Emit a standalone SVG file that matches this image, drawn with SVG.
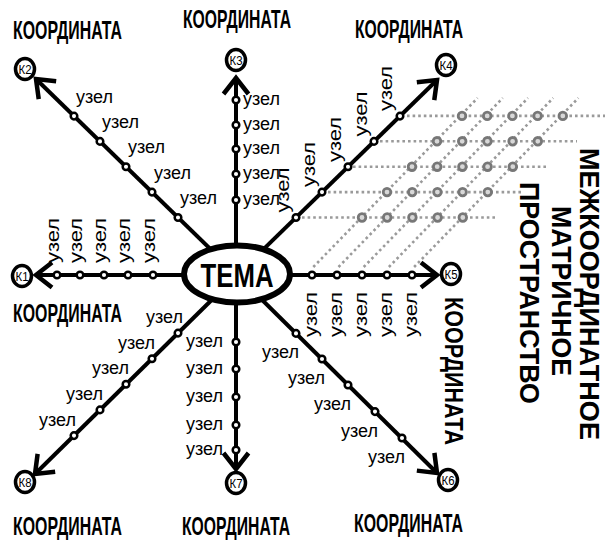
<svg xmlns="http://www.w3.org/2000/svg" width="605" height="543" viewBox="0 0 605 543">
<defs>
<style>
.ax{stroke:#000;stroke-width:4;fill:none;marker-end:url(#ar)}
.nd{fill:#fff;stroke:#000;stroke-width:2.5}
.lb{font-family:"Liberation Sans",Arial,sans-serif;font-size:18px;fill:#000}
.vl{font-family:"Liberation Sans",Arial,sans-serif;font-size:18px;fill:#000}
.co{font-family:"Liberation Sans",Arial,sans-serif;font-weight:bold;font-size:25px;fill:#000}
.kc{fill:#fff;stroke:#000;stroke-width:3.5}
.kt{font-family:"Liberation Sans",Arial,sans-serif;font-size:12.5px;text-anchor:middle;fill:#000}
.dt{stroke:#9a9a9a;stroke-width:2.6;stroke-dasharray:2.6 3;fill:none}
.gn{fill:#d8d8d8;stroke:#777;stroke-width:2.8}
.big{font-family:"Liberation Sans",Arial,sans-serif;font-weight:bold;font-size:27px;text-anchor:middle;fill:#000}
</style>
<marker id="ar" markerUnits="userSpaceOnUse" markerWidth="44" markerHeight="44" viewBox="-22 -22 44 44" refX="0" refY="0" orient="auto">
<path d="M-16,-12.5 L0,0 L-16,12.5" fill="none" stroke="#000" stroke-width="4.5"/>
</marker>
</defs>
<rect width="605" height="543" fill="#fff"/>

<g id="connectors">
<g id="matrix-lines">
<path class="dt" d="M313.3,267 L477.6,98 M338.5,267 L502.8,98 M363.7,267 L528,98 M388.9,267 L553.2,98 M414.1,267 L578.4,98"/>
<path class="dt" d="M302,217.5 H497 M328,192.1 H522 M353,166.7 H549 M380,141.3 H577 M407,115.9 H605"/>
</g>
<path class="ax" d="M237,275 L36,275"/>
<path class="ax" d="M237,275 L36,79"/>
<path class="ax" d="M236,275 L236,78"/>
<path class="ax" d="M237,275 L437,80"/>
<path class="ax" d="M237,275 L437,275"/>
<path class="ax" d="M237,275 L437,473"/>
<path class="ax" d="M236,275 L236,469"/>
<path class="ax" d="M237,275 L35,474"/>
</g>

<g id="matrix-nodes">
<circle class="gn" cx="362" cy="217.5" r="3.8"/><circle class="gn" cx="387.2" cy="217.5" r="3.8"/><circle class="gn" cx="412.4" cy="217.5" r="3.8"/><circle class="gn" cx="437.6" cy="217.5" r="3.8"/><circle class="gn" cx="462.8" cy="217.5" r="3.8"/>
<circle class="gn" cx="387" cy="192.1" r="3.8"/><circle class="gn" cx="412.2" cy="192.1" r="3.8"/><circle class="gn" cx="437.4" cy="192.1" r="3.8"/><circle class="gn" cx="462.6" cy="192.1" r="3.8"/><circle class="gn" cx="487.8" cy="192.1" r="3.8"/>
<circle class="gn" cx="412" cy="166.7" r="3.8"/><circle class="gn" cx="437.2" cy="166.7" r="3.8"/><circle class="gn" cx="462.4" cy="166.7" r="3.8"/><circle class="gn" cx="487.6" cy="166.7" r="3.8"/><circle class="gn" cx="512.8" cy="166.7" r="3.8"/>
<circle class="gn" cx="437" cy="141.3" r="3.8"/><circle class="gn" cx="462.2" cy="141.3" r="3.8"/><circle class="gn" cx="487.4" cy="141.3" r="3.8"/><circle class="gn" cx="512.6" cy="141.3" r="3.8"/><circle class="gn" cx="537.8" cy="141.3" r="3.8"/>
<circle class="gn" cx="462" cy="115.9" r="3.8"/><circle class="gn" cx="487.2" cy="115.9" r="3.8"/><circle class="gn" cx="512.4" cy="115.9" r="3.8"/><circle class="gn" cx="537.6" cy="115.9" r="3.8"/><circle class="gn" cx="562.8" cy="115.9" r="3.8"/>
</g>

<g id="tema">
<ellipse cx="237" cy="274" rx="53" ry="28.5" fill="#fff" stroke="#000" stroke-width="6"/>
<text x="237" y="287" text-anchor="middle" font-family="Liberation Sans, Arial, sans-serif" font-weight="bold" font-size="33" textLength="73" lengthAdjust="spacingAndGlyphs">ТЕМА</text>
</g>

<g id="k1"><ellipse class="kc" cx="22" cy="276" rx="9.5" ry="10.5"/><text class="kt" x="22" y="280.5" textLength="13" lengthAdjust="spacingAndGlyphs">К1</text><text class="co" x="13" y="322" textLength="109" lengthAdjust="spacingAndGlyphs">КООРДИНАТА</text></g>
<g id="k2"><ellipse class="kc" cx="25" cy="69" rx="9.5" ry="10.5"/><text class="kt" x="25" y="73.5" textLength="13" lengthAdjust="spacingAndGlyphs">К2</text><text class="co" x="13" y="39" textLength="109" lengthAdjust="spacingAndGlyphs">КООРДИНАТА</text></g>
<g id="k3"><ellipse class="kc" cx="236" cy="60" rx="9.5" ry="10.5"/><text class="kt" x="236" y="64.5" textLength="13" lengthAdjust="spacingAndGlyphs">К3</text><text class="co" x="183" y="28" textLength="108" lengthAdjust="spacingAndGlyphs">КООРДИНАТА</text></g>
<g id="k4"><ellipse class="kc" cx="446" cy="65" rx="9.5" ry="10.5"/><text class="kt" x="446" y="69.5" textLength="13" lengthAdjust="spacingAndGlyphs">К4</text><text class="co" x="355" y="38" textLength="108" lengthAdjust="spacingAndGlyphs">КООРДИНАТА</text></g>
<g id="k5"><ellipse class="kc" cx="451" cy="274" rx="9.5" ry="10.5"/><text class="kt" x="451" y="278.5" textLength="13" lengthAdjust="spacingAndGlyphs">К5</text><text class="co" transform="translate(445,297) rotate(90)" textLength="148" lengthAdjust="spacingAndGlyphs">КООРДИНАТА</text></g>
<g id="k6"><ellipse class="kc" cx="448" cy="480" rx="9.5" ry="10.5"/><text class="kt" x="448" y="484.5" textLength="13" lengthAdjust="spacingAndGlyphs">К6</text><text class="co" x="354" y="532" textLength="109" lengthAdjust="spacingAndGlyphs">КООРДИНАТА</text></g>
<g id="k7"><ellipse class="kc" cx="236" cy="483" rx="9.5" ry="10.5"/><text class="kt" x="236" y="487.5" textLength="13" lengthAdjust="spacingAndGlyphs">К7</text><text class="co" x="182" y="535" textLength="108" lengthAdjust="spacingAndGlyphs">КООРДИНАТА</text></g>
<g id="k8"><ellipse class="kc" cx="25" cy="482" rx="9.5" ry="10.5"/><text class="kt" x="25" y="486.5" textLength="13" lengthAdjust="spacingAndGlyphs">К8</text><text class="co" x="13" y="535" textLength="109" lengthAdjust="spacingAndGlyphs">КООРДИНАТА</text></g>

<g id="nodes-k1">
<g id="k1-n1"><circle class="nd" cx="57" cy="275" r="3.3"/><text class="vl" transform="translate(59,263) rotate(-90)" textLength="45" lengthAdjust="spacingAndGlyphs">узел</text></g>
<g id="k1-n2"><circle class="nd" cx="80" cy="275" r="3.3"/><text class="vl" transform="translate(82,263) rotate(-90)" textLength="45" lengthAdjust="spacingAndGlyphs">узел</text></g>
<g id="k1-n3"><circle class="nd" cx="104" cy="275" r="3.3"/><text class="vl" transform="translate(106,263) rotate(-90)" textLength="45" lengthAdjust="spacingAndGlyphs">узел</text></g>
<g id="k1-n4"><circle class="nd" cx="128" cy="275" r="3.3"/><text class="vl" transform="translate(130,263) rotate(-90)" textLength="45" lengthAdjust="spacingAndGlyphs">узел</text></g>
<g id="k1-n5"><circle class="nd" cx="153" cy="275" r="3.3"/><text class="vl" transform="translate(155,263) rotate(-90)" textLength="45" lengthAdjust="spacingAndGlyphs">узел</text></g>
</g>
<g id="nodes-k2">
<g id="k2-n1"><circle class="nd" cx="178" cy="217.5" r="3.3"/><text class="lb" x="180" y="204">узел</text></g>
<g id="k2-n2"><circle class="nd" cx="152" cy="192.1" r="3.3"/><text class="lb" x="154" y="178.6">узел</text></g>
<g id="k2-n3"><circle class="nd" cx="126" cy="166.8" r="3.3"/><text class="lb" x="128" y="153.3">узел</text></g>
<g id="k2-n4"><circle class="nd" cx="100" cy="141.4" r="3.3"/><text class="lb" x="102" y="127.9">узел</text></g>
<g id="k2-n5"><circle class="nd" cx="74" cy="116.1" r="3.3"/><text class="lb" x="76" y="102.6">узел</text></g>
</g>
<g id="nodes-k3">
<g id="k3-n1"><circle class="nd" cx="236" cy="200" r="3.3"/><text class="lb" x="243" y="205">узел</text></g>
<g id="k3-n2"><circle class="nd" cx="236" cy="174" r="3.3"/><text class="lb" x="243" y="179">узел</text></g>
<g id="k3-n3"><circle class="nd" cx="236" cy="149" r="3.3"/><text class="lb" x="243" y="154">узел</text></g>
<g id="k3-n4"><circle class="nd" cx="236" cy="125" r="3.3"/><text class="lb" x="243" y="130">узел</text></g>
<g id="k3-n5"><circle class="nd" cx="236" cy="100" r="3.3"/><text class="lb" x="243" y="105">узел</text></g>
</g>
<g id="nodes-k4">
<g id="k4-n1"><circle class="nd" cx="296" cy="217.5" r="3.3"/><text class="vl" transform="translate(289,212.5) rotate(-90)" textLength="45" lengthAdjust="spacingAndGlyphs">узел</text></g>
<g id="k4-n2"><circle class="nd" cx="322" cy="192.1" r="3.3"/><text class="vl" transform="translate(315,187) rotate(-90)" textLength="45" lengthAdjust="spacingAndGlyphs">узел</text></g>
<g id="k4-n3"><circle class="nd" cx="348" cy="166.8" r="3.3"/><text class="vl" transform="translate(341,162) rotate(-90)" textLength="45" lengthAdjust="spacingAndGlyphs">узел</text></g>
<g id="k4-n4"><circle class="nd" cx="374" cy="141.4" r="3.3"/><text class="vl" transform="translate(367,136.5) rotate(-90)" textLength="45" lengthAdjust="spacingAndGlyphs">узел</text></g>
<g id="k4-n5"><circle class="nd" cx="400" cy="116.1" r="3.3"/><text class="vl" transform="translate(392,111) rotate(-90)" textLength="45" lengthAdjust="spacingAndGlyphs">узел</text></g>
</g>
<g id="nodes-k5">
<g id="k5-n1"><circle class="nd" cx="312" cy="275" r="3.3"/><text class="vl" transform="translate(316.5,337) rotate(-90)" textLength="45" lengthAdjust="spacingAndGlyphs">узел</text></g>
<g id="k5-n2"><circle class="nd" cx="337" cy="275" r="3.3"/><text class="vl" transform="translate(341.5,337) rotate(-90)" textLength="45" lengthAdjust="spacingAndGlyphs">узел</text></g>
<g id="k5-n3"><circle class="nd" cx="362" cy="275" r="3.3"/><text class="vl" transform="translate(366.5,337) rotate(-90)" textLength="45" lengthAdjust="spacingAndGlyphs">узел</text></g>
<g id="k5-n4"><circle class="nd" cx="387" cy="275" r="3.3"/><text class="vl" transform="translate(391.5,337) rotate(-90)" textLength="45" lengthAdjust="spacingAndGlyphs">узел</text></g>
<g id="k5-n5"><circle class="nd" cx="412" cy="275" r="3.3"/><text class="vl" transform="translate(416.5,337) rotate(-90)" textLength="45" lengthAdjust="spacingAndGlyphs">узел</text></g>
</g>
<g id="nodes-k6">
<g id="k6-n1"><circle class="nd" cx="296" cy="333.4" r="3.3"/><text class="lb" x="299" y="358.4" text-anchor="end">узел</text></g>
<g id="k6-n2"><circle class="nd" cx="322" cy="359" r="3.3"/><text class="lb" x="325" y="384" text-anchor="end">узел</text></g>
<g id="k6-n3"><circle class="nd" cx="348" cy="385" r="3.3"/><text class="lb" x="351" y="410" text-anchor="end">узел</text></g>
<g id="k6-n4"><circle class="nd" cx="375" cy="411.6" r="3.3"/><text class="lb" x="378" y="436.6" text-anchor="end">узел</text></g>
<g id="k6-n5"><circle class="nd" cx="402" cy="438" r="3.3"/><text class="lb" x="405" y="463" text-anchor="end">узел</text></g>
</g>
<g id="nodes-k7">
<g id="k7-n1"><circle class="nd" cx="236" cy="342" r="3.3"/><text class="lb" x="223" y="347" text-anchor="end">узел</text></g>
<g id="k7-n2"><circle class="nd" cx="236" cy="369" r="3.3"/><text class="lb" x="223" y="374" text-anchor="end">узел</text></g>
<g id="k7-n3"><circle class="nd" cx="236" cy="397" r="3.3"/><text class="lb" x="223" y="402" text-anchor="end">узел</text></g>
<g id="k7-n4"><circle class="nd" cx="236" cy="425" r="3.3"/><text class="lb" x="223" y="430" text-anchor="end">узел</text></g>
<g id="k7-n5"><circle class="nd" cx="236" cy="450" r="3.3"/><text class="lb" x="223" y="455" text-anchor="end">узел</text></g>
</g>
<g id="nodes-k8">
<g id="k8-n1"><circle class="nd" cx="178" cy="333.1" r="3.3"/><text class="lb" x="183" y="323" text-anchor="end">узел</text></g>
<g id="k8-n2"><circle class="nd" cx="152" cy="358.7" r="3.3"/><text class="lb" x="155" y="348.7" text-anchor="end">узел</text></g>
<g id="k8-n3"><circle class="nd" cx="126" cy="384.3" r="3.3"/><text class="lb" x="129" y="374.3" text-anchor="end">узел</text></g>
<g id="k8-n4"><circle class="nd" cx="100" cy="409.9" r="3.3"/><text class="lb" x="103" y="400" text-anchor="end">узел</text></g>
<g id="k8-n5"><circle class="nd" cx="74" cy="435.6" r="3.3"/><text class="lb" x="76" y="425.6" text-anchor="end">узел</text></g>
</g>

<g id="matrix-title">
<text class="big" transform="translate(580,294) rotate(90)" textLength="292" lengthAdjust="spacingAndGlyphs">МЕЖКООРДИНАТНОЕ</text>
<text class="big" transform="translate(552,291) rotate(90)" textLength="170" lengthAdjust="spacingAndGlyphs">МАТРИЧНОЕ</text>
<text class="big" transform="translate(520,293) rotate(90)" textLength="222" lengthAdjust="spacingAndGlyphs">ПРОСТРАНСТВО</text>
</g>
</svg>
